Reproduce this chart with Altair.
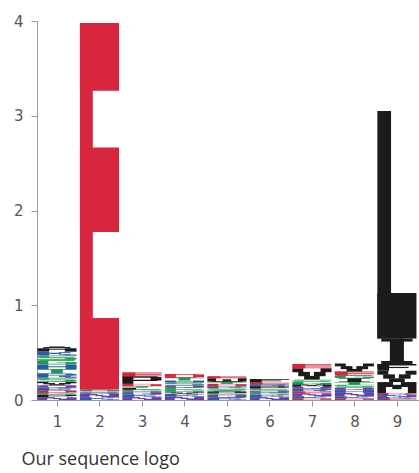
import altair as alt
import pandas as pd

# Letter stacks per position, listed bottom to top, heights in bits
positions = [1, 2, 3, 4, 5, 6, 7, 8, 9]
letters = [
    ["N", "P", "G", "D", "K", "Q", "V", "S", "R", "T", "H", "G", "S", "K", "A"],
    ["K", "N", "Q", "S", "A", "E"],
    ["N", "K", "Q", "G", "L", "T", "D", "P", "E"],
    ["N", "K", "V", "G", "C", "Q", "S", "H", "T", "D"],
    ["K", "Q", "G", "A", "S", "R", "D", "T", "W", "E"],
    ["N", "K", "G", "Q", "S", "P", "R", "E", "F"],
    ["D", "K", "N", "E", "R", "Q", "M", "G", "S", "V", "E"],
    ["D", "K", "N", "H", "Q", "S", "T", "I", "G", "E", "V"],
    ["E", "K", "N", "R", "D", "M", "V", "F", "I", "L"],
]
heights = [
    [0.03, 0.025, 0.02, 0.025, 0.03, 0.025, 0.035, 0.045, 0.045, 0.045, 0.05, 0.045, 0.05, 0.045, 0.05],
    [0.03, 0.035, 0.015, 0.02, 0.01, 3.87],
    [0.03, 0.03, 0.025, 0.025, 0.02, 0.015, 0.025, 0.08, 0.04],
    [0.035, 0.03, 0.02, 0.025, 0.02, 0.025, 0.03, 0.02, 0.03, 0.04],
    [0.025, 0.03, 0.02, 0.025, 0.025, 0.02, 0.025, 0.02, 0.04, 0.02],
    [0.03, 0.025, 0.02, 0.02, 0.025, 0.025, 0.02, 0.02, 0.035],
    [0.015, 0.025, 0.03, 0.02, 0.03, 0.02, 0.025, 0.03, 0.02, 0.12, 0.045],
    [0.015, 0.025, 0.035, 0.03, 0.025, 0.03, 0.03, 0.04, 0.03, 0.04, 0.085],
    [0.012, 0.02, 0.02, 0.012, 0.01, 0.115, 0.12, 0.07, 0.27, 2.4],
]

# Residue classes and their colours
CLASS = {
    **{a: "hydrophobic" for a in "AVLIPWFM"},
    **{a: "acidic" for a in "DE"},
    **{a: "basic" for a in "KRH"},
    **{a: "polar" for a in "GSTYC"},
    **{a: "neutral" for a in "NQ"},
}
class_names = ["hydrophobic", "acidic", "basic", "polar", "neutral"]
class_colors = ["#1b1b1b", "#d7263d", "#2c5aa8", "#1a9a4c", "#6c3fa6"]

# Block-letter outlines in a unit box: (x0, x1, y0, y1)
GLYPHS = {
    "E": [(0, 0.33, 0, 1), (0, 1, 0, 0.195), (0, 1, 0.43, 0.66), (0, 1, 0.815, 1)],
    "L": [(0, 0.35, 0, 1), (0, 1, 0, 0.2)],
    "I": [(0.1, 0.9, 0, 0.12), (0.32, 0.68, 0, 1), (0.1, 0.9, 0.88, 1)],
    "F": [(0, 0.3, 0, 1), (0, 1, 0.78, 1), (0, 0.8, 0.4, 0.58)],
    "T": [(0, 1, 0.8, 1), (0.35, 0.65, 0, 1)],
    "V": [(0, 0.28, 0.65, 1), (0.72, 1, 0.65, 1), (0.15, 0.45, 0.3, 0.68),
          (0.55, 0.85, 0.3, 0.68), (0.3, 0.7, 0, 0.33)],
    "Y": [(0, 0.3, 0.62, 1), (0.7, 1, 0.62, 1), (0.2, 0.8, 0.45, 0.66), (0.36, 0.64, 0, 0.5)],
    "M": [(0, 0.22, 0, 1), (0.78, 1, 0, 1), (0.18, 0.4, 0.55, 1),
          (0.6, 0.82, 0.55, 1), (0.38, 0.62, 0.35, 0.75)],
    "A": [(0.3, 0.7, 0.85, 1), (0.15, 0.85, 0.6, 0.87), (0, 0.3, 0, 0.62),
          (0.7, 1, 0, 0.62), (0.25, 0.75, 0.25, 0.4)],
    "K": [(0, 0.3, 0, 1), (0.3, 0.6, 0.35, 0.65), (0.55, 0.85, 0.62, 0.82),
          (0.7, 1, 0.8, 1), (0.55, 0.85, 0.18, 0.38), (0.7, 1, 0, 0.2)],
    "S": [(0.05, 1, 0.82, 1), (0, 0.3, 0.55, 0.85), (0.05, 0.95, 0.42, 0.6),
          (0.7, 1, 0.15, 0.45), (0, 0.95, 0, 0.18)],
    "G": [(0.05, 0.95, 0.82, 1), (0, 0.28, 0.1, 0.9), (0.05, 0.95, 0, 0.18),
          (0.72, 1, 0.1, 0.5), (0.5, 1, 0.38, 0.52)],
    "D": [(0, 0.28, 0, 1), (0, 0.8, 0.82, 1), (0, 0.8, 0, 0.18), (0.72, 1, 0.12, 0.88)],
    "N": [(0, 0.25, 0, 1), (0.75, 1, 0, 1), (0.2, 0.45, 0.55, 1),
          (0.4, 0.6, 0.3, 0.7), (0.55, 0.8, 0, 0.45)],
    "Q": [(0.05, 0.95, 0.82, 1), (0, 0.28, 0.1, 0.9), (0.72, 1, 0.1, 0.9),
          (0.05, 0.95, 0, 0.18), (0.5, 0.85, 0.1, 0.3)],
    "R": [(0, 0.28, 0, 1), (0, 0.9, 0.82, 1), (0.72, 1, 0.55, 0.9),
          (0, 0.9, 0.45, 0.6), (0.55, 0.85, 0.2, 0.48), (0.7, 1, 0, 0.25)],
    "H": [(0, 0.28, 0, 1), (0.72, 1, 0, 1), (0, 1, 0.42, 0.6)],
    "P": [(0, 0.28, 0, 1), (0, 0.9, 0.82, 1), (0.72, 1, 0.45, 0.9), (0, 0.9, 0.38, 0.55)],
    "W": [(0, 0.22, 0.1, 1), (0.78, 1, 0.1, 1), (0.39, 0.61, 0.2, 0.7), (0.1, 0.9, 0, 0.2)],
    "C": [(0.05, 1, 0.82, 1), (0, 0.28, 0.1, 0.9), (0.05, 1, 0, 0.18)],
}
HALF_WIDTH = 0.46

rows = []
for pos, col_letters, col_heights in zip(positions, letters, heights):
    base = 0.0
    for aa, h in zip(col_letters, col_heights):
        left = pos - HALF_WIDTH
        for gx0, gx1, gy0, gy1 in GLYPHS[aa]:
            rows.append({
                "position": pos,
                "letter": aa,
                "cls": CLASS[aa],
                "x0": left + gx0 * 2 * HALF_WIDTH,
                "x1": left + gx1 * 2 * HALF_WIDTH,
                "y0": base + gy0 * h,
                "y1": base + gy1 * h,
            })
        base += h
df = pd.DataFrame(rows)

axis_style = dict(title=None, format="d", grid=False, domainColor="#999",
                  tickColor="#999", tickSize=6, labelFontSize=15,
                  labelColor="#555", labelFont="DejaVu Sans")

chart = alt.Chart(df).mark_rect(strokeWidth=0).encode(
    x=alt.X("x0:Q", scale=alt.Scale(domain=[0.53, 9.52], nice=False, zero=False),
            axis=alt.Axis(values=positions, labelPadding=8, **axis_style)),
    x2="x1:Q",
    y=alt.Y("y0:Q", scale=alt.Scale(domain=[0, 4], nice=False),
            axis=alt.Axis(values=[0, 1, 2, 3, 4], labelPadding=8, **axis_style)),
    y2="y1:Q",
    color=alt.Color("cls:N", scale=alt.Scale(domain=class_names, range=class_colors),
                    legend=None),
).properties(
    width=382,
    height=379,
    autosize=alt.AutoSizeParams(type="none"),
    padding={"left": 37, "top": 21, "right": 0, "bottom": 73},
    title=alt.TitleParams("Our sequence logo", orient="bottom", anchor="start",
                          font="Open Sans", fontSize=18, fontWeight="normal",
                          color="#333", dx=8, offset=22),
).configure_view(stroke=None)

chart.save("out.html", embed_options={"renderer": "svg", "actions": False})
